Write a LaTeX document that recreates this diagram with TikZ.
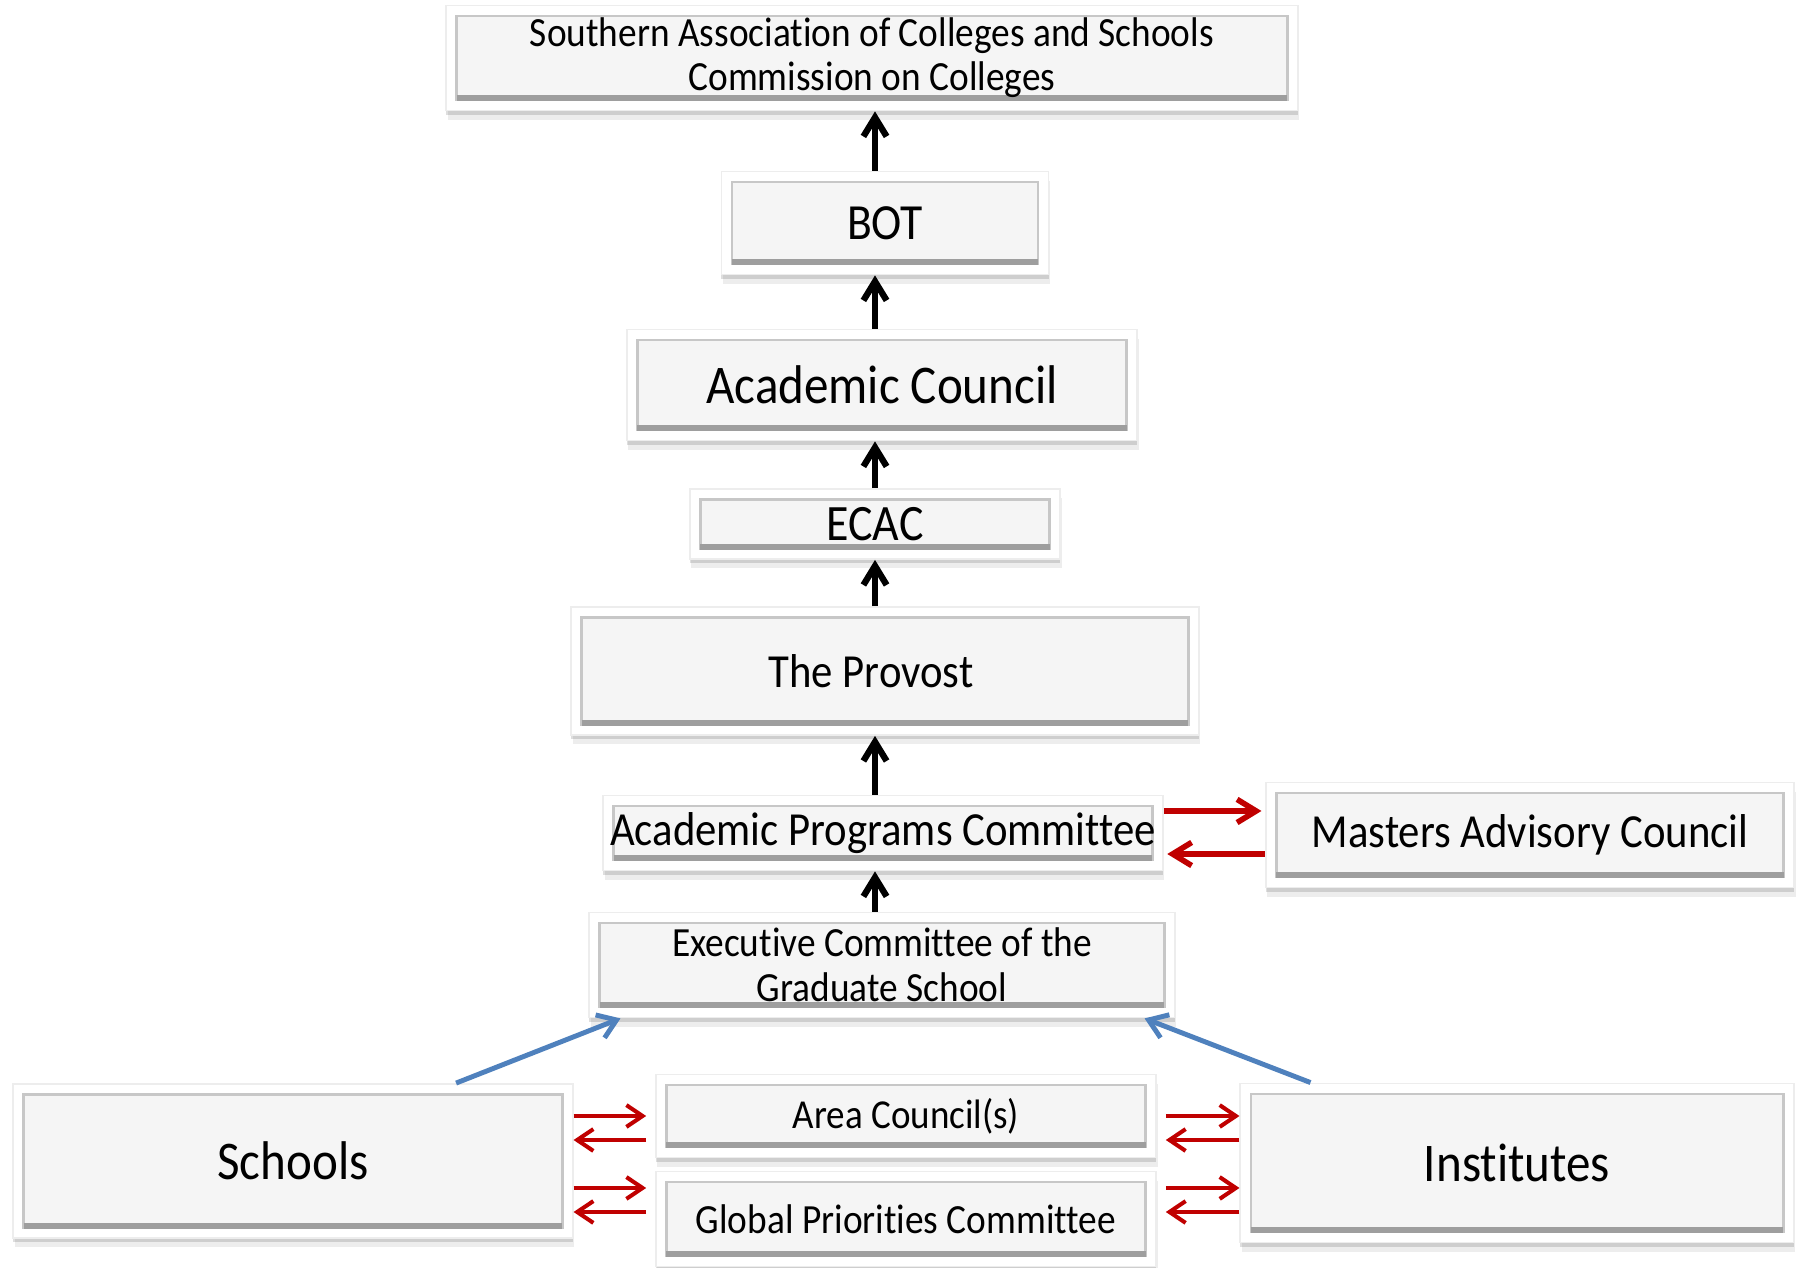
\documentclass[tikz,border=0pt]{standalone}
\usepackage{fontspec}
\setmainfont{Carlito}[FakeStretch=0.9,Ligatures=NoCommon]
\usetikzlibrary{arrows.meta,shadows}

\definecolor{boxfill}{HTML}{F5F5F5}
\definecolor{linkred}{HTML}{C00000}
\definecolor{feedblue}{HTML}{4F81BD}

\tikzset{
    panel/.style={draw=black!7, line width=0.5pt, fill=white, inner sep=2pt, align=center,
        drop shadow={shadow xshift=0pt, shadow yshift=-1.2pt, fill=black, opacity=0.13},
        drop shadow={shadow xshift=0.4pt, shadow yshift=-2.6pt, fill=black, opacity=0.07},
        path picture={
            \fill[boxfill] ([shift={(3pt,3pt)}]path picture bounding box.south west) rectangle ([shift={(-3pt,-3pt)}]path picture bounding box.north east);
            \draw[black!22, line width=0.8pt] ([shift={(3pt,3pt)}]path picture bounding box.south west) rectangle ([shift={(-3pt,-3pt)}]path picture bounding box.north east);
            \draw[black!38, line width=1.6pt] ([shift={(3pt,3.5pt)}]path picture bounding box.south west) -- ([shift={(-3pt,3.5pt)}]path picture bounding box.south east);
        }},
    uparrow/.style={-{Straight Barb[length=5.4pt,width=6.6pt]}, line width=1.8pt, black},
    sidearrow/.style={-{Straight Barb[length=5.4pt,width=6.6pt]}, line width=1.6pt, linkred},
    pairarrow/.style={-{Straight Barb[length=4.6pt,width=6.2pt]}, line width=1.15pt, linkred},
    feedarrow/.style={-{Straight Barb[length=5pt,width=7pt]}, line width=1.4pt, feedblue}
}

\begin{document}
\begin{tikzpicture}[x=0.01cm,y=-0.01cm]
        \useasboundingbox (0,0) rectangle (1797,1268);
        \node[panel, minimum width=8.51cm, minimum height=1.05cm, font=\fontsize{11.8}{12.6}\selectfont] at (872,58) (sacs) {Southern Association of Colleges and Schools\\Commission on Colleges};
        \node[panel, minimum width=3.27cm, minimum height=1.03cm, font=\fontsize{14.4}{16}\selectfont] at (885,223) (bot) {BOT};
        \node[panel, minimum width=5.10cm, minimum height=1.11cm, font=\fontsize{15.5}{18}\selectfont] at (882,385) (acad) {Academic Council};
        \node[panel, minimum width=3.70cm, minimum height=0.70cm, font=\fontsize{14.5}{17}\selectfont] at (875,524) (ecac) {ECAC};
        \node[panel, minimum width=6.27cm, minimum height=1.28cm, font=\fontsize{13.5}{16}\selectfont] at (885,671) (provost) {\hspace*{-0.28cm}The Provost};
        \node[panel, minimum width=5.59cm, minimum height=0.75cm, font=\fontsize{13.5}{16}\selectfont] at (883,833) (apc) {Academic Programs Committee};
        \node[panel, minimum width=5.28cm, minimum height=1.05cm, font=\fontsize{13.5}{16}\selectfont] at (1530,835) (mac) {Masters Advisory Council};
        \node[panel, minimum width=5.85cm, minimum height=1.05cm, font=\fontsize{11.8}{12.8}\selectfont] at (882,965) (ecgs) {Executive Committee of the\\Graduate School};
        \node[panel, minimum width=5.59cm, minimum height=1.54cm, font=\fontsize{15.5}{18}\selectfont] at (293,1161) (schools) {Schools};
        \node[panel, minimum width=5.00cm, minimum height=0.83cm, font=\fontsize{11.7}{13}\selectfont] at (906,1116) (area) {Area Council(s)};
        \node[panel, minimum width=5.00cm, minimum height=0.95cm, font=\fontsize{11.8}{13}\selectfont] at (906,1219) (global) {Global Priorities Committee};
        \node[panel, minimum width=5.53cm, minimum height=1.59cm, font=\fontsize{15.5}{18}\selectfont] at (1517,1163) (institutes) {Institutes};
        % reporting line
        \draw[uparrow] (bot.north -| ecac) to (sacs.south -| ecac);
        \draw[uparrow] (acad.north -| ecac) to (bot.south -| ecac);
        \draw[uparrow] (ecac.north) to (acad.south -| ecac);
        \draw[uparrow] (provost.north -| ecac) to (ecac.south);
        \draw[uparrow] (apc.north -| ecac) to (provost.south -| ecac);
        \draw[uparrow] (ecgs.north -| ecac) to (apc.south -| ecac);
        \draw[sidearrow, shorten >=1pt] ([yshift=0.22cm]apc.east) to ([yshift=0.22cm]apc.east -| mac.west);
        \draw[sidearrow, shorten >=1pt] ([yshift=-0.21cm]apc.east -| mac.west) to ([yshift=-0.21cm]apc.east);
        \draw[feedarrow] ([xshift=1.63cm]schools.north) to ([xshift=0.32cm]ecgs.south west);
        \draw[feedarrow] ([xshift=0.71cm]institutes.north west) to ([xshift=-0.31cm]ecgs.south east);
        % both ways
        \draw[pairarrow, shorten >=2.5pt] (schools.east |- area.west) to (area.west);
        \draw[pairarrow, shorten <=2.5pt] ([yshift=-0.24cm]area.west) to ([yshift=-0.24cm]area.west -| schools.east);
        \draw[pairarrow, shorten >=2.5pt] ([yshift=0.31cm]global.west -| schools.east) to ([yshift=0.31cm]global.west);
        \draw[pairarrow, shorten <=2.5pt] ([yshift=0.07cm]global.west) to ([yshift=0.07cm]global.west -| schools.east);
        \draw[pairarrow, shorten <=2.5pt] (area.east) to (area.east -| institutes.west);
        \draw[pairarrow, shorten >=2.5pt] ([yshift=-0.24cm]area.east -| institutes.west) to ([yshift=-0.24cm]area.east);
        \draw[pairarrow, shorten <=2.5pt] ([yshift=0.31cm]global.east) to ([yshift=0.31cm]global.east -| institutes.west);
        \draw[pairarrow, shorten >=2.5pt] ([yshift=0.07cm]global.east -| institutes.west) to ([yshift=0.07cm]global.east);
\end{tikzpicture}
\end{document}
